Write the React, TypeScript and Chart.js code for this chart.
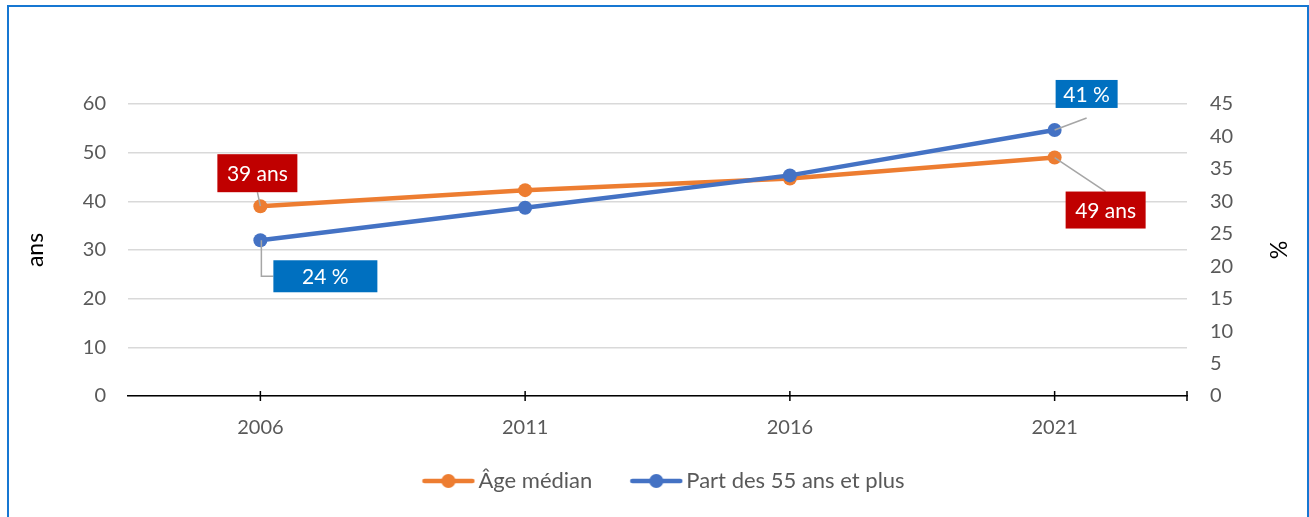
import React, { useEffect, useRef } from "react";
import { Chart, registerables } from "chart.js";

Chart.register(...registerables);

const categories = ["2006", "2011", "2016", "2021"];
const ageMedian = [39, 42.3, 44.7, 49];
const part55 = [24, 29, 34, 41];
const seriesNames = ["Âge médian", "Part des 55 ans et plus"];
const leftAxisTitle = "ans";
const rightAxisTitle = "%";

const ORANGE = "#ED7D31";
const BLUE = "#4472C4";
const FONT = "Lato, 'Open Sans', sans-serif";
const TICK_COLOR = "#595959";

// callouts: data labels with leader lines (offsets relative to the point)
const callouts = [
  { ds: 0, i: 0, text: `${ageMedian[0]} ans`, bg: "#C00000", box: [-43, -52, 80, 38], leader: [[0, 0], [-3, -14]] },
  { ds: 1, i: 0, text: `${part55[0]} %`, bg: "#0070C0", box: [13, 20, 104, 32], leader: [[1, 0], [1, 36], [13, 36]] },
  { ds: 1, i: 3, text: `${part55[3]} %`, bg: "#0070C0", box: [1, -50, 62, 28], leader: [[0, 0], [32, -12]] },
  { ds: 0, i: 3, text: `${ageMedian[3]} ans`, bg: "#C00000", box: [11, 34, 80, 37], leader: [[0, 0], [51, 34]] },
];

// legend icon: transparent left part, visible line+marker on the right 54px
const ICON_W = 79;
function legendIcon(color: string) {
  const c = document.createElement("canvas");
  c.width = ICON_W;
  c.height = 16;
  const ctx = c.getContext("2d")!;
  const off = ICON_W - 54;
  ctx.strokeStyle = color;
  ctx.lineWidth = 4.5;
  ctx.lineCap = "round";
  ctx.beginPath();
  ctx.moveTo(off + 3, 8);
  ctx.lineTo(off + 51, 8);
  ctx.stroke();
  ctx.fillStyle = color;
  ctx.beginPath();
  ctx.arc(off + 27, 8, 7, 0, Math.PI * 2);
  ctx.fill();
  return c;
}

const calloutPlugin = {
  id: "callouts",
  afterDatasetsDraw(chart: any) {
    const ctx = chart.ctx;
    ctx.save();
    // x axis tick marks crossing the axis line
    const xs = chart.scales.x;
    const y0 = chart.chartArea.bottom;
    ctx.strokeStyle = "#000000";
    ctx.lineWidth = 1.5;
    const tickXs = categories.map((_, k) => xs.getPixelForValue(k));
    tickXs.push(chart.chartArea.right);
    tickXs.forEach((tx: number) => {
      ctx.beginPath();
      ctx.moveTo(tx, y0 - 5);
      ctx.lineTo(tx, y0 + 5);
      ctx.stroke();
    });
    callouts.forEach((c) => {
      const pt = chart.getDatasetMeta(c.ds).data[c.i];
      const px = pt.x;
      const py = pt.y;
      ctx.strokeStyle = "#A6A6A6";
      ctx.lineWidth = 1.5;
      ctx.beginPath();
      c.leader.forEach(([dx, dy], k) => {
        if (k === 0) ctx.moveTo(px + dx, py + dy);
        else ctx.lineTo(px + dx, py + dy);
      });
      ctx.stroke();
      const [bx, by, bw, bh] = c.box;
      ctx.fillStyle = c.bg;
      ctx.fillRect(px + bx, py + by, bw, bh);
      ctx.fillStyle = "#FFFFFF";
      ctx.font = `21px ${FONT}`;
      ctx.textAlign = "center";
      ctx.textBaseline = "middle";
      ctx.fillText(c.text, px + bx + bw / 2, py + by + bh / 2 + 1);
    });
    ctx.restore();
  },
};

export default function App() {
  const ref = useRef<HTMLCanvasElement | null>(null);

  useEffect(() => {
    if (!ref.current) return;
    const icons = [legendIcon(ORANGE), legendIcon(BLUE)];
    const chart = new Chart(ref.current, {
      type: "line",
      data: {
        labels: categories,
        datasets: [
          {
            label: seriesNames[0],
            data: ageMedian,
            yAxisID: "y",
            borderColor: ORANGE,
            backgroundColor: ORANGE,
            borderWidth: 4.5,
            pointRadius: 7,
            pointBorderWidth: 0,
            pointBackgroundColor: ORANGE,
            order: 1,
          },
          {
            label: seriesNames[1],
            data: part55,
            yAxisID: "y2",
            borderColor: BLUE,
            backgroundColor: BLUE,
            borderWidth: 4.5,
            pointRadius: 7,
            pointBorderWidth: 0,
            pointBackgroundColor: BLUE,
            order: 0,
          },
        ],
      },
      options: {
        responsive: false,
        animation: false,
        layout: { padding: { top: 104, left: 0, right: 0, bottom: 15 } },
        scales: {
          x: {
            type: "category",
            offset: true,
            grid: { display: false, drawTicks: false },
            border: { display: true, color: "#000000", width: 1.5 },
            ticks: { color: TICK_COLOR, font: { family: FONT, size: 20 }, padding: 20 },
            afterFit: (s: any) => {
              s.height = 54;
            },
          },
          y: {
            position: "left",
            min: 0,
            max: 60,
            ticks: { stepSize: 10, color: TICK_COLOR, font: { family: FONT, size: 20 }, padding: 22 },
            grid: { color: "#D9D9D9", lineWidth: 1.5, drawTicks: false },
            border: { display: false },
            title: {
              display: true,
              text: leftAxisTitle,
              color: "#000000",
              font: { family: FONT, size: 23 },
              padding: { top: 22, bottom: 0 },
            },
            afterFit: (s: any) => {
              s.width = 128;
            },
          },
          y2: {
            position: "right",
            min: 0,
            max: 45,
            ticks: { stepSize: 5, color: TICK_COLOR, font: { family: FONT, size: 20 }, padding: 23 },
            grid: { drawOnChartArea: false, drawTicks: false },
            border: { display: false },
            title: {
              display: true,
              text: rightAxisTitle,
              color: "#000000",
              font: { family: FONT, size: 23 },
              padding: { top: 18, bottom: 0 },
            },
            afterFit: (s: any) => {
              s.width = 122;
            },
          },
        },
        plugins: {
          legend: {
            position: "bottom",
            labels: {
              usePointStyle: true,
              pointStyleWidth: 63,
              padding: 20,
              color: TICK_COLOR,
              font: { family: FONT, size: 22 },
              generateLabels: (ch: any) => {
                const items = (Chart.defaults.plugins.legend.labels as any).generateLabels(ch);
                items.forEach((it: any) => {
                  it.pointStyle = icons[it.datasetIndex];
                });
                return items.sort((a: any, b: any) => a.datasetIndex - b.datasetIndex);
              },
            },
          },
          tooltip: { enabled: false },
        },
      },
      plugins: [calloutPlugin],
    } as any);
    return () => chart.destroy();
  }, []);

  return (
    <div>
      <div
        style={{
          position: "fixed",
          left: 0,
          top: 0,
          width: 1309,
          height: 517,
          background: "#FFFFFF",
        }}
      >
        <canvas ref={ref} width={1309} height={517} style={{ width: 1309, height: 517, display: "block" }} />
      </div>
      <div
        style={{
          position: "fixed",
          left: 7,
          top: 5,
          width: 1302,
          height: 512,
          boxSizing: "border-box",
          borderTop: "2px solid #1677D2",
          borderLeft: "2px solid #1677D2",
          borderRight: "2px solid #1677D2",
          borderBottom: "none",
          pointerEvents: "none",
        }}
      />
    </div>
  );
}
